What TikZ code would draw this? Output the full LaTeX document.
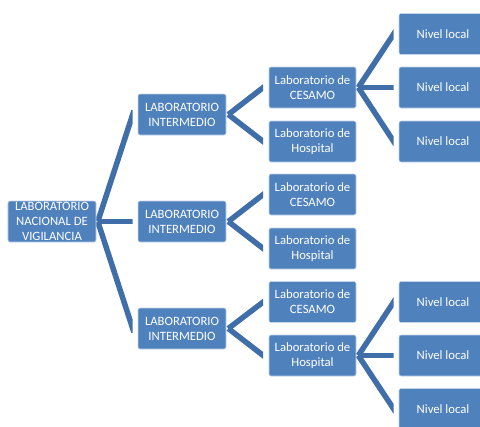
\documentclass[tikz,border=0pt]{standalone}
\usepackage{fontspec}
\setmainfont{Carlito}
\usetikzlibrary{calc}
\definecolor{boxblue}{HTML}{4F81BD}
\definecolor{linkblue}{HTML}{3F6EA8}
\newcommand{\boxfont}{\fontsize{12.7bp}{15bp}\selectfont}
\tikzset{
  box/.style={rectangle, rounded corners=2bp, fill=boxblue,
    draw=white!65!boxblue, line width=0.6bp, minimum width=88bp,
    minimum height=41bp, text=white, align=center, font=\boxfont, inner sep=0pt},
  link/.style={draw=linkblue, line width=5.5bp, shorten >=-4bp},
}
\begin{document}
\begin{tikzpicture}[x=1bp, y=-1bp]
\useasboundingbox (0,0) rectangle (480,426);
\clip (0,0) rectangle (480,426);

% root of the tree
\node[box] (root) at (52,221.5) {LABORATORIO\\NACIONAL DE\\VIGILANCIA};

% intermediate laboratories
\node[box] (i1) at (182,114.5) {LABORATORIO\\INTERMEDIO};
\node[box] (i2) at (182,221.5) {LABORATORIO\\INTERMEDIO};
\node[box] (i3) at (182,328.5) {LABORATORIO\\INTERMEDIO};

% CESAMO and hospital laboratories
\node[box, minimum width=87bp] (c1) at (312.5,87.5)  {Laboratorio de\\CESAMO};
\node[box, minimum width=87bp] (h1) at (312.5,141.5) {Laboratorio de\\Hospital};
\node[box, minimum width=87bp] (c2) at (312.5,194.5) {Laboratorio de\\CESAMO};
\node[box, minimum width=87bp] (h2) at (312.5,248.5) {Laboratorio de\\Hospital};
\node[box, minimum width=87bp] (c3) at (312.5,302)   {Laboratorio de\\CESAMO};
\node[box, minimum width=87bp] (h3) at (312.5,355.5) {Laboratorio de\\Hospital};

% local level
\node[box] (n1) at (443,34)    {Nivel local};
\node[box] (n2) at (443,87.5)  {Nivel local};
\node[box] (n3) at (443,141.5) {Nivel local};
\node[box] (n4) at (443,302)   {Nivel local};
\node[box] (n5) at (443,355.5) {Nivel local};
\node[box] (n6) at (443,409)   {Nivel local};

% forks: each arm is cut square just before its child box
\begin{scope}
  \clip ($(root.east)+(0,-8cm)$) rectangle ($(i2.west)+(-5bp,8cm)$);
  \coordinate (f0) at ($(root.east)+(1.5bp,0)$);
  \foreach \c in {i1,i2,i3} \draw[link] (f0) -- ($(\c.west)+(-5bp,0)$);
\end{scope}
\foreach \p/\a/\b in {i1/c1/h1, i2/c2/h2, i3/c3/h3}{
  \begin{scope}
    \clip ($(\p.east)+(0,-8cm)$) rectangle ($(\a.west)+(-5.5bp,8cm)$);
    \coordinate (f) at ($(\p.east)+(2bp,0)$);
    \draw[link] (f) -- ($(\a.west)+(-5.5bp,0)$);
    \draw[link] (f) -- ($(\b.west)+(-5.5bp,0)$);
  \end{scope}
}
\foreach \p/\a/\b/\c in {c1/n1/n2/n3, h3/n4/n5/n6}{
  \begin{scope}
    \clip ($(\p.east)+(0,-8cm)$) rectangle ($(\a.west)+(-5bp,8cm)$);
    \coordinate (f) at ($(\p.east)+(2bp,0)$);
    \draw[link] (f) -- ($(\a.west)+(-5bp,0)$);
    \draw[link] (f) -- ($(\b.west)+(-5bp,0)$);
    \draw[link] (f) -- ($(\c.west)+(-5bp,0)$);
  \end{scope}
}
\end{tikzpicture}
\end{document}
